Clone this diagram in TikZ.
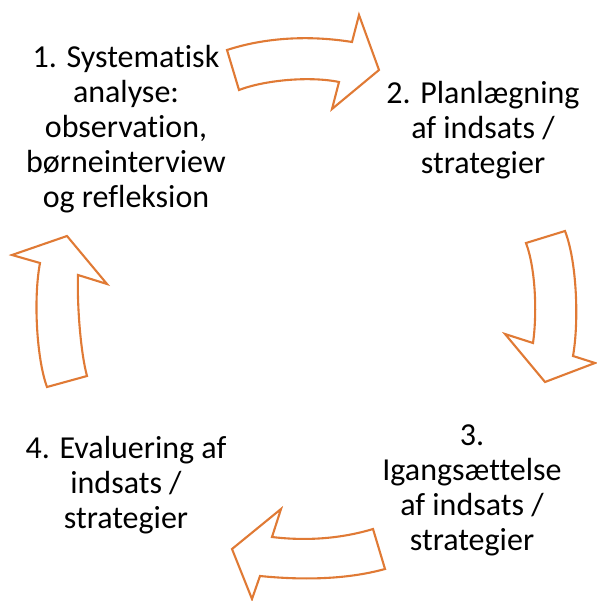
\documentclass[tikz,border=0pt]{standalone}
\usepackage{fontspec}
\setmainfont{Carlito}[Ligatures=NoCommon]
\definecolor{arrowor}{HTML}{E07A35}
\tikzset{
  cyclearrow/.style={draw=arrowor, line width=2.1pt, line join=miter, fill=white},
  lbl/.style={align=center, inner sep=0pt, font=\fontsize{32}{35}\selectfont, anchor=base}
}
\begin{document}
\begin{tikzpicture}[x=1pt,y=-1pt]
\useasboundingbox (0,0) rectangle (596,601);
% arrow 1 (top, pointing right)
\draw[cyclearrow] (227,50) .. controls (270,36) and (315,36) .. (352,42) -- (359,15) -- (379,70) -- (332,109) -- (339,82) .. controls (310,76) and (265,80) .. (239,90) -- cycle;
% arrow 2 (right, pointing down)
\draw[cyclearrow] (526,243) -- (565,231) .. controls (577,262) and (579,322) .. (573,356) -- (595,363) -- (545,382) -- (505,334) -- (533,343) .. controls (537,315) and (536,270) .. cycle;
% arrow 3 (bottom, pointing left)
\draw[cyclearrow] (373,529) -- (385,569) .. controls (345,580) and (300,580) .. (260,576) -- (252,599) -- (232,549) -- (281,509) -- (272,537) .. controls (305,541) and (340,539) .. cycle;
% arrow 4 (left, pointing up)
\draw[cyclearrow] (47,387) -- (87,376) .. controls (80,350) and (77,300) .. (78,275) -- (107,284) -- (67,236) -- (12,255) -- (40,263) .. controls (33,300) and (37,360) .. cycle;
% texts (base anchor = baseline of last line)
\node[lbl] (t1) at (126,208) {1. Systematisk\\analyse:\\observation,\\børneinterview\\og refleksion};
\node[lbl] (t2) at (483,174) {2. Planlægning\\af indsats /\\strategier};
\node[lbl] (t3) at (472,550) {3.\\Igangsættelse\\af indsats /\\strategier};
\node[lbl] (t4) at (126,528) {4. Evaluering af\\indsats /\\strategier};
\end{tikzpicture}
\end{document}
